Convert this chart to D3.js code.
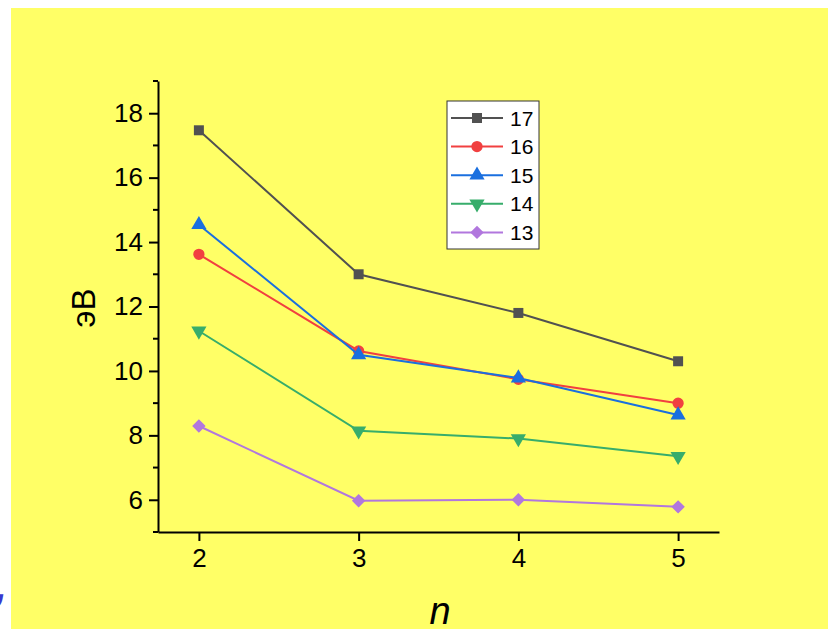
<!DOCTYPE html>
<html>
<head>
<meta charset="utf-8">
<script src="https://cdn.jsdelivr.net/npm/d3@7"></script>
<style>
  body { margin: 0; background: #fff; }
  text { font-family: Arial, "Liberation Sans", sans-serif; }
</style>
</head>
<body>
<div id="chart"></div>
<script>
// data
const nValues = [2, 3, 4, 5];
const seriesNames = ["17", "16", "15", "14", "13"];
const s17 = [17.47, 13.0, 11.8, 10.3];
const s16 = [13.62, 10.62, 9.74, 9.0];
const s15 = [14.54, 10.5, 9.78, 8.63];
const s14 = [11.24, 8.14, 7.9, 7.35];
const s13 = [8.29, 5.97, 6.0, 5.78];
const yTicks = [6, 8, 10, 12, 14, 16, 18];
const yMinor = [5, 7, 9, 11, 13, 15, 17, 19];

const colors = ["#515151", "#F14040", "#1A6FDF", "#37AD6B", "#B177DE"];
const symbols = [d3.symbolSquare, d3.symbolCircle, d3.symbolTriangle, d3.symbolTriangle, d3.symbolSquare];
const symSize = [100, 100, 100, 100, 90];
const rot = [0, 0, 0, 180, 45];
const allSeries = [s17, s16, s15, s14, s13];

const W = 828, H = 629;
const svg = d3.select("#chart").append("svg")
    .attr("width", W)
    .attr("height", H);

// yellow panel
svg.append("rect")
    .attr("x", 11).attr("y", 8)
    .attr("width", W - 11).attr("height", H - 8)
    .attr("fill", "#FFFF66");

// stray blue comma at the left edge
svg.append("text")
    .attr("x", -4).attr("y", 600)
    .attr("font-size", 38)
    .attr("font-weight", "bold")
    .attr("font-style", "italic")
    .attr("fill", "#3838d0")
    .text(",");

const xScale = d3.scaleLinear().domain([1.744, 5.256]).range([158, 719]);
const yScale = d3.scaleLinear().domain([5, 19]).range([532, 81]);

// y axis
const yAxis = svg.append("g").attr("transform", "translate(158,0)");
yAxis.call(d3.axisLeft(yScale).tickValues(yTicks).tickSize(9).tickSizeOuter(0).tickPadding(6));
yAxis.append("g").selectAll("line").data(yMinor).enter().append("line")
    .attr("x1", -5).attr("x2", 0)
    .attr("y1", d => yScale(d)).attr("y2", d => yScale(d))
    .attr("stroke", "#000").attr("stroke-width", 2);

// x axis
const xAxis = svg.append("g").attr("transform", "translate(0,532)");
xAxis.call(d3.axisBottom(xScale).tickValues(nValues).tickFormat(d3.format("d")).tickSize(9).tickSizeOuter(0).tickPadding(8));

[yAxis, xAxis].forEach(g => {
    g.attr("font-size", 26);
    g.select(".domain").attr("stroke", "#000").attr("stroke-width", 2);
    g.selectAll(".tick line").attr("stroke", "#000").attr("stroke-width", 2);
    g.selectAll(".tick text")
        .attr("font-size", 26)
        .attr("fill", "#000")
        .style("font-family", "Arial, 'Liberation Sans', sans-serif");
});
xAxis.selectAll(".tick text").attr("dy", "0.71em");

// axis titles
svg.append("text")
    .attr("transform", "translate(95,308) rotate(-90)")
    .attr("text-anchor", "middle")
    .attr("font-size", 33)
    .text("эВ");

svg.append("text")
    .attr("x", 440).attr("y", 624)
    .attr("text-anchor", "middle")
    .attr("font-size", 38)
    .attr("font-style", "italic")
    .text("n");

// lines and markers
const line = d3.line()
    .x((d, i) => xScale(nValues[i]))
    .y(d => yScale(d));

function marker(sel, k) {
    sel.attr("d", d3.symbol().type(symbols[k]).size(symSize[k]))
        .attr("fill", colors[k]);
}

allSeries.forEach((vals, k) => {
    svg.append("path")
        .datum(vals)
        .attr("d", line)
        .attr("fill", "none")
        .attr("stroke", colors[k])
        .attr("stroke-width", 2);
    svg.append("g").selectAll("path").data(vals).enter().append("path")
        .call(marker, k)
        .attr("transform", (d, i) => "translate(" + xScale(nValues[i]) + "," + yScale(d) + ") rotate(" + rot[k] + ")");
});

// legend
const legend = svg.append("g").attr("transform", "translate(447,101)");
legend.append("rect")
    .attr("width", 92).attr("height", 148)
    .attr("fill", "#fff")
    .attr("stroke", "#333")
    .attr("stroke-width", 1);
const rows = legend.selectAll(".row").data(seriesNames).enter().append("g")
    .attr("transform", (d, i) => "translate(0," + (17 + i * 28.6) + ")");
rows.append("line")
    .attr("x1", 4).attr("x2", 56)
    .attr("stroke", (d, i) => colors[i])
    .attr("stroke-width", 2);
rows.append("path")
    .each(function(d, i) {
        d3.select(this).call(marker, i)
            .attr("transform", "translate(30,0) rotate(" + rot[i] + ")");
    });
rows.append("text")
    .attr("x", 63).attr("dy", "0.36em")
    .attr("font-size", 21)
    .text(d => d);
</script>
</body>
</html>
